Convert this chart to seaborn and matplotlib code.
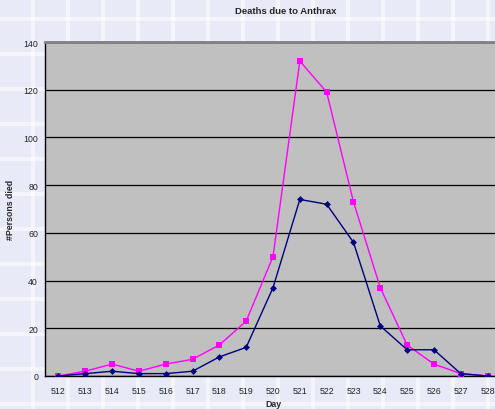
import matplotlib
matplotlib.use("Agg")
import matplotlib.pyplot as plt
from matplotlib.lines import Line2D
import numpy as np
import pandas as pd
import seaborn as sns

# Daily death counts per day number
days = list(range(512, 529))
series_a = [0, 2, 5, 2, 5, 7, 13, 23, 50, 132, 119, 73, 37, 13, 5, 1, 0]
series_b = [0, 1, 2, 1, 1, 2, 8, 12, 37, 74, 72, 56, 21, 11, 11, 1, 0]
y_ticks = [0, 20, 40, 60, 80, 100, 120, 140]

sns.set_theme(style="white")
plt.rcParams["font.family"] = ["Liberation Sans", "DejaVu Sans"]

W, H = 495, 410
fig = plt.figure(figsize=(W / 100, H / 100), dpi=100)
fig.patch.set_facecolor("#E8EAF8")

# tiled backdrop: soft white seams
for x in np.arange(33, W + 1, 35):
    fig.add_artist(Line2D([x / W, x / W], [0, 1], transform=fig.transFigure,
                          color="white", lw=3, alpha=0.55, zorder=0))
for y in np.arange(20, H + 1, 35):
    fig.add_artist(Line2D([0, 1], [1 - y / H, 1 - y / H], transform=fig.transFigure,
                          color="white", lw=3, alpha=0.55, zorder=0))

left, right, top, bottom = 45, 501, 43, 377
ax = fig.add_axes([left / W, 1 - bottom / H, (right - left) / W, (bottom - top) / H])
ax.set_facecolor("#C0C0C0")

df_a = pd.DataFrame({"Day": days, "Deaths": series_a})
df_b = pd.DataFrame({"Day": days, "Deaths": series_b})

sns.lineplot(data=df_a, x="Day", y="Deaths", ax=ax, color="#FF00FF", lw=1.0,
             marker="s", markersize=4, markeredgewidth=0, zorder=4)
sns.lineplot(data=df_b, x="Day", y="Deaths", ax=ax, color="#000080", lw=1.0,
             marker="D", markersize=3.5, markeredgewidth=0, zorder=5)

ax.set_xlim(511.5, 528.5)
ax.set_ylim(0, 140)
ax.set_yticks(y_ticks)
ax.set_yticklabels([str(v) for v in y_ticks], fontsize=6.3, color="#222222")
ax.set_xticks(days)
ax.set_xticklabels([str(d) for d in days], fontsize=6.3, color="#222222")
ax.set_xticks(np.arange(511.5, 529, 1), minor=True)
ax.tick_params(axis="x", which="major", length=0, pad=7)
ax.tick_params(axis="x", which="minor", length=4, width=0.8, color="black", direction="out")
ax.tick_params(axis="y", which="major", length=3, width=0.8, color="black",
               direction="out", pad=2)
ax.yaxis.grid(True, color="black", lw=0.9)
ax.set_axisbelow(True)

for s in ["left", "bottom"]:
    ax.spines[s].set_color("black")
    ax.spines[s].set_linewidth(1.0)
ax.spines["top"].set_color("#808080")
ax.spines["top"].set_linewidth(2.0)
ax.spines["right"].set_visible(False)

ax.set_xlabel("Day", fontsize=6.3, fontweight="bold", labelpad=3)
ax.set_ylabel("#Persons died", fontsize=6.3, fontweight="bold")
ax.yaxis.set_label_coords(-30 / (right - left), 0.5)

fig.text(286 / W, 1 - 12 / H, "Deaths due to Anthrax", ha="center", va="center",
         fontsize=6.8, fontweight="bold")

fig.savefig("out.png", dpi=100, facecolor=fig.get_facecolor())
